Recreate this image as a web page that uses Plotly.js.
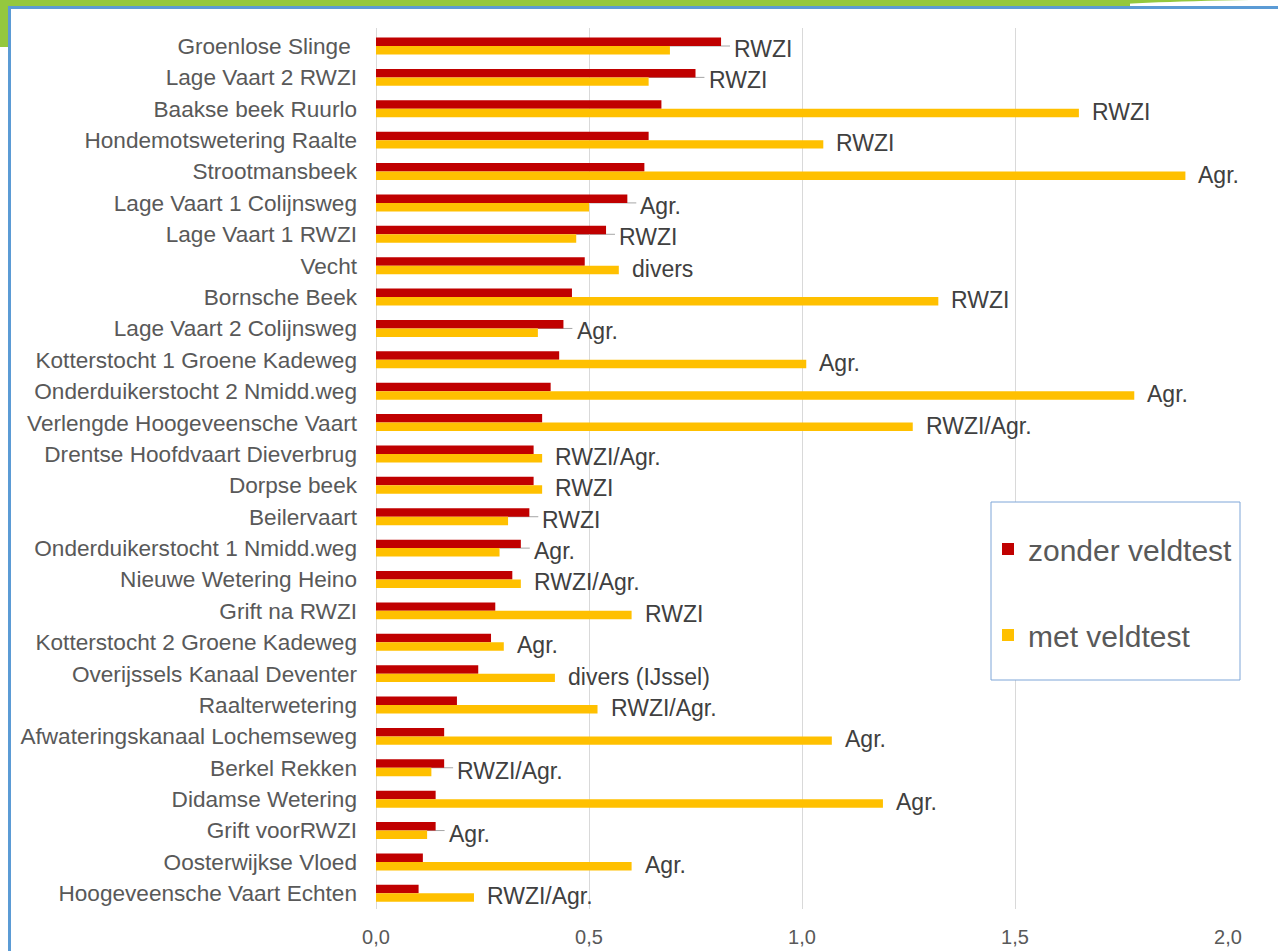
<!DOCTYPE html>
<html>
<head>
<meta charset="utf-8">
<script src="https://cdn.plot.ly/plotly-3.0.1.min.js"></script>
<style>html,body{margin:0;padding:0;background:#fff;}#chart{width:1278px;height:951px;}</style>
</head>
<body>
<div id="chart"></div>
<script>
const categories = [
  "Groenlose Slinge ", "Lage Vaart 2 RWZI", "Baakse beek Ruurlo", "Hondemotswetering Raalte",
  "Strootmansbeek", "Lage Vaart 1 Colijnsweg", "Lage Vaart 1 RWZI", "Vecht",
  "Bornsche Beek", "Lage Vaart 2 Colijnsweg", "Kotterstocht 1 Groene Kadeweg",
  "Onderduikerstocht 2 Nmidd.weg", "Verlengde Hoogeveensche Vaart", "Drentse Hoofdvaart Dieverbrug",
  "Dorpse beek", "Beilervaart", "Onderduikerstocht 1 Nmidd.weg", "Nieuwe Wetering Heino",
  "Grift na RWZI", "Kotterstocht 2 Groene Kadeweg", "Overijssels Kanaal Deventer",
  "Raalterwetering", "Afwateringskanaal Lochemseweg", "Berkel Rekken", "Didamse Wetering",
  "Grift voorRWZI", "Oosterwijkse Vloed", "Hoogeveensche Vaart Echten"
];
const zonderVeldtest = [0.81, 0.75, 0.67, 0.64, 0.63, 0.59, 0.54, 0.49, 0.46, 0.44, 0.43, 0.41, 0.39, 0.37,
  0.37, 0.36, 0.34, 0.32, 0.28, 0.27, 0.24, 0.19, 0.16, 0.16, 0.14, 0.14, 0.11, 0.10];
const metVeldtest = [0.69, 0.64, 1.65, 1.05, 1.90, 0.50, 0.47, 0.57, 1.32, 0.38, 1.01, 1.78, 1.26, 0.39,
  0.39, 0.31, 0.29, 0.34, 0.60, 0.30, 0.42, 0.52, 1.07, 0.13, 1.19, 0.12, 0.60, 0.23];
const bronLabels = ["RWZI", "RWZI", "RWZI", "RWZI", "Agr.", "Agr.", "RWZI", "divers", "RWZI", "Agr.", "Agr.",
  "Agr.", "RWZI/Agr.", "RWZI/Agr.", "RWZI", "RWZI", "Agr.", "RWZI/Agr.", "RWZI", "Agr.", "divers (IJssel)",
  "RWZI/Agr.", "Agr.", "RWZI/Agr.", "Agr.", "Agr.", "Agr.", "RWZI/Agr."];
const xTicks = [0, 0.5, 1.0, 1.5, 2.0];

// layout geometry (pixels)
const W = 1278, H = 951;
const mL = 376, mR = 50, mT = 28, mB = 42;
const pw = W - mL - mR, ph = H - mT - mB;
const px = v => (v - mL) / pw;          // pixel x -> paper x
const py = v => (H - mB - v) / ph;      // pixel y -> paper y

const traces = [
  {type: 'bar', orientation: 'h', name: 'zonder veldtest', y: categories, x: zonderVeldtest,
   marker: {color: '#c00000'}, legendgroup: 'a', hoverinfo: 'x+y'},
  {type: 'bar', orientation: 'h', name: 'met veldtest', y: categories, x: metVeldtest,
   marker: {color: '#ffc000'}, legendgroup: 'b', hoverinfo: 'x+y'}
];

const pad = 0.026;
const annotations = categories.map((c, i) => ({
  x: Math.max(zonderVeldtest[i], metVeldtest[i]) + pad, y: c, xref: 'x', yref: 'y',
  text: bronLabels[i], showarrow: false, xanchor: 'left', yanchor: 'middle', yshift: -3,
  font: {family: 'Liberation Sans, Arial, sans-serif', size: 23, color: '#404040'}
}));

const shapes = [];
// leader lines where label sits away from the yellow bar
categories.forEach((c, i) => {
  if (zonderVeldtest[i] > metVeldtest[i]) {
    shapes.push({type: 'line', xref: 'x', yref: 'y', x0: metVeldtest[i], x1: zonderVeldtest[i] + pad - 0.005,
      y0: c, y1: c, line: {color: '#a6a6a6', width: 1}, layer: 'below'});
  }
});
// frame decorations
shapes.push({type: 'rect', xref: 'paper', yref: 'paper', x0: px(0), x1: px(1130), y0: py(0), y1: py(7), fillcolor: '#94c83e', line: {width: 0}});
shapes.push({type: 'path', xref: 'paper', yref: 'paper',
  path: `M ${px(1080)} ${py(7)} Q ${px(1130)} ${py(2)} ${px(1250)} ${py(0)} L ${px(1080)} ${py(0)} Z`,
  fillcolor: '#94c83e', line: {width: 0}});
shapes.push({type: 'rect', xref: 'paper', yref: 'paper', x0: px(0), x1: px(8), y0: py(0), y1: py(47), fillcolor: '#94c83e', line: {width: 0}});
shapes.push({type: 'line', xref: 'paper', yref: 'paper', x0: px(8), x1: px(1278), y0: py(7.5), y1: py(7.5), line: {color: '#5b9bd5', width: 3}});
shapes.push({type: 'line', xref: 'paper', yref: 'paper', x0: px(9.5), x1: px(9.5), y0: py(6), y1: py(951), line: {color: '#5b9bd5', width: 3}});
// legend frame
shapes.push({type: 'rect', xref: 'paper', yref: 'paper', x0: px(991), x1: px(1240), y0: py(502), y1: py(680),
  fillcolor: '#ffffff', line: {color: '#7ea6d8', width: 1}, layer: 'above'});

const layout = {
  width: W, height: H,
  margin: {l: mL, r: mR, t: mT, b: mB, pad: 0},
  paper_bgcolor: '#ffffff', plot_bgcolor: '#ffffff',
  barmode: 'group', bargap: 0.46, bargroupgap: 0,
  separators: ',.',
  font: {family: 'Liberation Sans, Arial, sans-serif', color: '#595959'},
  xaxis: {range: [0, 2.0], tickvals: xTicks, tickformat: '.1f', showgrid: true, gridcolor: '#d9d9d9',
    gridwidth: 1, zeroline: true, zerolinecolor: '#d9d9d9', showline: false, ticks: '',
    ticklabelstandoff: 14, tickfont: {size: 20, color: '#595959'}, fixedrange: true},
  yaxis: {type: 'category', autorange: 'reversed', showgrid: false, zeroline: false, showline: false,
    ticks: '', ticklabelstandoff: 18, tickfont: {size: 22.6, color: '#595959'}, fixedrange: true},
  showlegend: true,
  legend: {x: px(988), y: py(523), xanchor: 'left', yanchor: 'top', bgcolor: 'rgba(0,0,0,0)',
    borderwidth: 0, tracegroupgap: 44, font: {size: 30, color: '#595959'}},
  annotations: annotations,
  shapes: shapes
};

Plotly.newPlot('chart', traces, layout, {displayModeBar: false, staticPlot: true});
</script>
</body>
</html>
